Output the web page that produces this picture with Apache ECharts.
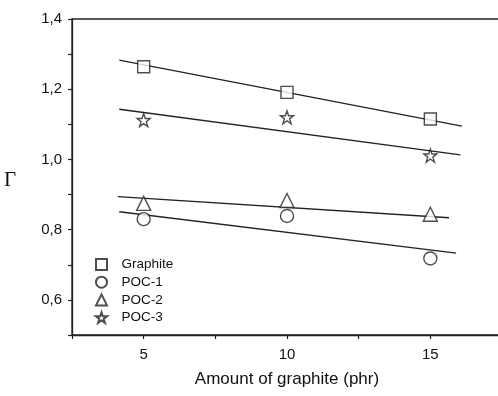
<!DOCTYPE html>
<html>
<head>
<meta charset="utf-8">
<script src="https://cdn.jsdelivr.net/npm/echarts@6/dist/echarts.min.js"></script>
<style>html,body{margin:0;padding:0;background:#fff;}#c{width:498px;height:396px;}</style>
</head>
<body>
<div id="c"></div>
<script>
// Data
const xValues = [5, 10, 15];
const seriesNames = ['Graphite', 'POC-1', 'POC-2', 'POC-3'];
const graphite = [1.264, 1.191, 1.115];
const poc1 = [0.830, 0.839, 0.718];
const poc2 = [0.875, 0.883, 0.844];
const poc3 = [1.112, 1.120, 1.011];
// linear fit lines: x ends and y ends
const fitGraphiteX = [4.15, 16.1];
const fitGraphiteY = [1.283, 1.095];
const fitPoc1X = [4.15, 15.9];
const fitPoc1Y = [0.851, 0.733];
const fitPoc2X = [4.1, 15.65];
const fitPoc2Y = [0.894, 0.834];
const fitPoc3X = [4.15, 16.05];
const fitPoc3Y = [1.143, 1.013];
const yTicks = [0.6, 0.8, 1.0, 1.2, 1.4];
const xTicks = [5, 10, 15];

const INK = '#222';
const starPath = 'path://M50,2 L61.5,36 L97,36 L68.5,57.5 L79.5,92 L50,71 L20.5,92 L31.5,57.5 L3,36 L38.5,36 Z';
const symbols = ['rect', 'circle', 'triangle', starPath];
const sizes = [12, 13, 14, 13];
const values = [graphite, poc1, poc2, poc3];
const fits = [[fitGraphiteX, fitGraphiteY], [fitPoc1X, fitPoc1Y], [fitPoc2X, fitPoc2Y], [fitPoc3X, fitPoc3Y]];

const series = [];
fits.forEach(function (f) {
  series.push({
    type: 'line', symbol: 'none', silent: true,
    lineStyle: { color: INK, width: 1.3 },
    data: f[0].map(function (x, i) { return [x, f[1][i]]; }),
    z: 1
  });
});
values.forEach(function (v, k) {
  series.push({
    name: seriesNames[k], type: 'scatter',
    symbol: symbols[k], symbolSize: sizes[k],
    itemStyle: { color: '#fff', borderColor: INK, borderWidth: 1.4 },
    data: xValues.map(function (x, i) { return [x, v[i]]; }),
    z: 3
  });
});

const chart = echarts.init(document.getElementById('c'), null, { renderer: 'canvas' });
chart.setOption({
  animation: false,
  backgroundColor: '#fff',
  grid: { left: 72, top: 19, width: 430, height: 316, outerBoundsMode: 'none', containLabel: false, show: true, borderColor: INK, borderWidth: 1.3, backgroundColor: 'transparent' },
  legend: {
    data: seriesNames, orient: 'vertical', left: 90, top: 252.5, padding: 5,
    itemWidth: 11, itemHeight: 11, itemGap: 3.7,
    textStyle: { fontFamily: 'Liberation Sans, Arial', fontSize: 13.5, color: '#111', lineHeight: 13, padding: [0, 0, 0, 9.5] },
    selectedMode: false
  },
  xAxis: {
    type: 'value', min: 2.5, max: 17.5, interval: 2.5,
    axisLine: { show: true, lineStyle: { color: INK, width: 1.3 } },
    axisTick: { show: true, length: 4, lineStyle: { color: INK, width: 1.2 } },
    splitLine: { show: false },
    axisLabel: {
      margin: 12, fontFamily: 'Liberation Sans, Arial', fontSize: 15, color: '#111',
      formatter: function (v) { return xTicks.indexOf(Math.round(v * 10) / 10) >= 0 ? String(v) : ''; }
    },
    name: 'Amount of graphite (phr)', nameLocation: 'middle', nameGap: 36,
    nameTextStyle: { fontFamily: 'Liberation Sans, Arial', fontSize: 17, color: '#111' }
  },
  yAxis: {
    type: 'value', min: 0.5, max: 1.4, interval: 0.1,
    axisLine: { show: true, lineStyle: { color: INK, width: 1.3 } },
    axisTick: { show: true, length: 4, lineStyle: { color: INK, width: 1.2 } },
    splitLine: { show: false },
    axisLabel: {
      margin: 10, fontFamily: 'Liberation Sans, Arial', fontSize: 15, color: '#111',
      formatter: function (v) {
        const r = Math.round(v * 10) / 10;
        return yTicks.indexOf(r) >= 0 ? r.toFixed(1).replace('.', ',') : '';
      }
    }
  },
  graphic: [{
    type: 'text', left: 4, top: 170,
    style: { text: 'Γ', fontFamily: 'Liberation Serif, DejaVu Serif, serif', fontSize: 21, fill: '#111' }
  }],
  series: series
});
</script>
</body>
</html>
